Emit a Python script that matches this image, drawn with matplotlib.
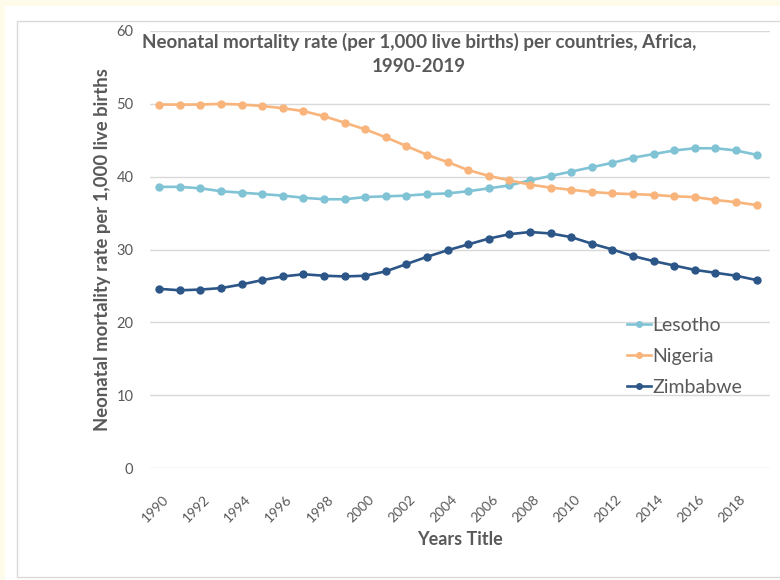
import matplotlib
matplotlib.use("Agg")
import matplotlib.pyplot as plt
import matplotlib.transforms as mtransforms
from matplotlib.patches import Rectangle

plt.rcParams["font.family"] = ["Lato", "DejaVu Sans"]

# ---- data ----
years = list(range(1990, 2020))
lesotho = [38.6, 38.6, 38.4, 38.0, 37.8, 37.6, 37.4, 37.1, 36.9, 36.9,
           37.2, 37.3, 37.4, 37.6, 37.7, 38.0, 38.4, 38.8, 39.5, 40.1,
           40.7, 41.3, 41.9, 42.6, 43.1, 43.6, 43.9, 43.9, 43.6, 43.0]
nigeria = [49.9, 49.9, 49.9, 50.0, 49.9, 49.7, 49.4, 49.0, 48.3, 47.4,
           46.5, 45.4, 44.2, 43.0, 42.0, 40.9, 40.1, 39.5, 38.9, 38.5,
           38.2, 37.9, 37.7, 37.6, 37.5, 37.3, 37.2, 36.8, 36.5, 36.1]
zimbabwe = [24.6, 24.4, 24.5, 24.7, 25.2, 25.8, 26.3, 26.6, 26.4, 26.3,
            26.4, 27.0, 28.0, 29.0, 29.9, 30.7, 31.5, 32.1, 32.4, 32.2,
            31.7, 30.8, 30.0, 29.1, 28.4, 27.8, 27.2, 26.8, 26.4, 25.8]
series_names = ["Lesotho", "Nigeria", "Zimbabwe"]
series_colors = ["#80C3D5", "#F8B47B", "#2C5688"]
xtick_years = list(range(1990, 2019, 2))
yticks = [0, 10, 20, 30, 40, 50, 60]

W, H = 780, 580
TXT = "#595959"
GRID = "#D9D9D9"


def fx(px):
    return px / W


def fy(py):
    return 1 - py / H


fig = plt.figure(figsize=(7.8, 5.8), dpi=100, facecolor="#FFFBEA")

# white page + chart border
fig.patches.append(Rectangle((fx(5), 0), 1, fy(6), transform=fig.transFigure,
                             facecolor="white", edgecolor="none", zorder=-2))
fig.patches.append(Rectangle((fx(17), fy(577)), fx(800 - 17), fy(21) - fy(577),
                             transform=fig.transFigure, facecolor="white",
                             edgecolor=GRID, lw=1.0, zorder=-1))

ax = fig.add_axes([fx(150), fy(468), fx(770 - 150), fy(31) - fy(468)])
ax.set_facecolor("none")

for vals, name, col in zip([lesotho, nigeria, zimbabwe], series_names, series_colors):
    ax.plot(years, vals, color=col, lw=1.9, marker="o", ms=5, label=name, zorder=3)

ax.set_xlim(1989.55, 2019.65)
ax.set_ylim(0, 60)
ax.set_yticks(yticks)
ax.set_xticks(xtick_years)
ax.set_xticklabels([str(y) for y in xtick_years], rotation=45, ha="right",
                   rotation_mode="anchor")
ax.grid(axis="y", color=GRID, lw=1.0)
ax.set_axisbelow(True)
for s in ax.spines.values():
    s.set_visible(False)
ax.tick_params(axis="both", length=0, colors=TXT, labelsize=10)
ax.tick_params(axis="y", pad=12, labelsize=10.5)
ax.tick_params(axis="x", pad=18)
offset = mtransforms.ScaledTranslation(3 / 100, 0, fig.dpi_scale_trans)
for lab in ax.get_xticklabels():
    lab.set_transform(lab.get_transform() + offset)

ax.set_xlabel("Years Title", fontsize=13, fontweight="bold", color=TXT, labelpad=5)
ax.set_ylabel("Neonatal mortality rate per 1,000 live births", fontsize=13.3,
              fontweight="bold", color=TXT, labelpad=4)

# title
fig.text(fx(419), fy(42), "Neonatal mortality rate (per 1,000 live births) per countries, Africa,",
         ha="center", va="center", fontsize=13.5, fontweight="bold", color=TXT)
fig.text(fx(419), fy(67), "1990-2019", ha="center", va="center", fontsize=13.5,
         fontweight="bold", color=TXT)

leg = ax.legend(loc="upper left", bbox_to_anchor=(fx(619), fy(309)),
                bbox_transform=fig.transFigure, frameon=False, fontsize=14,
                handlelength=1.25, handletextpad=0.05, labelspacing=0.72,
                markerscale=0.8, borderaxespad=0)
for t in leg.get_texts():
    t.set_color(TXT)

fig.savefig("out.png", dpi=100, facecolor=fig.get_facecolor())
